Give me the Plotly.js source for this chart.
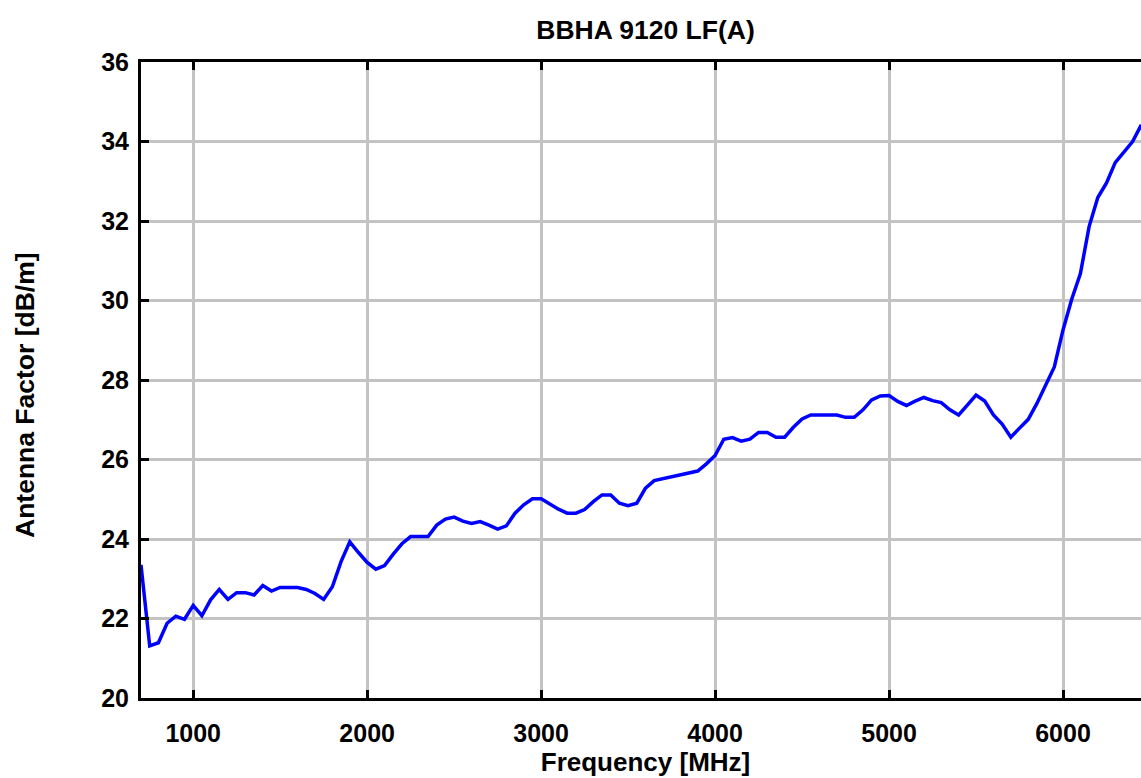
<!DOCTYPE html>
<html>
<head>
<meta charset="utf-8">
<script src="https://cdn.plot.ly/plotly-3.0.1.min.js"></script>
<style>
html, body { margin: 0; padding: 0; overflow: hidden; background: #fff; }
#chart { width: 1170px; height: 778px; }
</style>
</head>
<body>
<div id="chart"></div>
<script>
// Frequency in MHz
const frequency = [
  700, 750, 800, 850, 900, 950, 1000, 1050, 1100, 1150, 1200, 1250, 1300, 1350, 1400, 1450,
  1500, 1550, 1600, 1650, 1700, 1750, 1800, 1850, 1900, 1950, 2000, 2050, 2100, 2150, 2200,
  2250, 2300, 2350, 2400, 2450, 2500, 2550, 2600, 2650, 2700, 2750, 2800, 2850, 2900, 2950,
  3000, 3050, 3100, 3150, 3200, 3250, 3300, 3350, 3400, 3450, 3500, 3550, 3600, 3650,
  3900, 3950, 4000, 4050, 4100, 4150, 4200, 4250, 4300, 4350, 4400, 4450, 4500, 4550,
  4600, 4650, 4700, 4750, 4800, 4850, 4900, 4950, 5000, 5050, 5100, 5150, 5200, 5250,
  5300, 5350, 5400, 5450, 5500, 5550, 5600, 5650, 5700, 5750, 5800, 5850, 5900, 5950,
  6000, 6050, 6100, 6150, 6200, 6250, 6300, 6350, 6400, 6450
];
// Antenna factor in dB/m
const antennaFactor = [
  23.35, 21.31, 21.39, 21.88, 22.06, 21.98, 22.33, 22.07, 22.47, 22.73, 22.48, 22.65, 22.65, 22.59, 22.83, 22.69,
  22.78, 22.79, 22.78, 22.73, 22.63, 22.48, 22.80, 23.43, 23.93, 23.66, 23.41, 23.24, 23.33, 23.62, 23.88,
  24.06, 24.06, 24.06, 24.35, 24.50, 24.55, 24.45, 24.39, 24.44, 24.35, 24.25, 24.33, 24.65, 24.86, 25.01,
  25.01, 24.87, 24.75, 24.65, 24.65, 24.74, 24.94, 25.11, 25.11, 24.90, 24.84, 24.90, 25.28, 25.47,
  25.71, 25.89, 26.10, 26.51, 26.55, 26.46, 26.51, 26.68, 26.68, 26.56, 26.56, 26.81, 27.02, 27.12,
  27.12, 27.12, 27.12, 27.06, 27.06, 27.25, 27.50, 27.60, 27.61, 27.46, 27.36, 27.47, 27.56, 27.48,
  27.43, 27.25, 27.12, 27.37, 27.62, 27.47, 27.12, 26.89, 26.56, 26.79, 27.01, 27.41, 27.89, 28.33,
  29.26, 30.03, 30.68, 31.86, 32.59, 32.96, 33.47, 33.72, 34.00, 34.42
];
const xTicks = [1000, 2000, 3000, 4000, 5000, 6000];
const yTicks = [20, 22, 24, 26, 28, 30, 32, 34, 36];
const chartTitle = 'BBHA 9120 LF(A)';
const xTitle = 'Frequency [MHz]';
const yTitle = 'Antenna Factor [dB/m]';

const fontFam = '"Liberation Sans", Arial, sans-serif';

const trace = {
  x: frequency,
  y: antennaFactor,
  type: 'scatter',
  mode: 'lines',
  line: { color: '#0000ff', width: 3.5 },
  hoverinfo: 'skip'
};

const layout = {
  width: 1170,
  height: 778,
  margin: { l: 141, r: 20, t: 62, b: 80 },
  paper_bgcolor: '#ffffff',
  plot_bgcolor: '#ffffff',
  showlegend: false,
  font: { family: fontFam, color: '#000000' },
  title: {
    text: '<b>' + chartTitle + '</b>',
    font: { family: fontFam, size: 26.5, color: '#000' },
    x: 0.5, xref: 'paper', xanchor: 'center',
    y: 1 - 30 / 778, yref: 'container', yanchor: 'middle'
  },
  xaxis: {
    range: [700, 6500],
    tickvals: xTicks,
    ticktext: xTicks.map(v => '<b>' + v + '</b>'),
    tickfont: { family: fontFam, size: 25, color: '#000' },
    ticks: 'inside', ticklen: 8, tickwidth: 3, tickcolor: '#000',
    ticklabelstandoff: 11,
    showline: true, linecolor: '#000', linewidth: 3, mirror: 'ticks',
    showgrid: true, gridcolor: '#c3c3c3', gridwidth: 3,
    zeroline: false,
    automargin: false,
    title: { text: '<b>' + xTitle + '</b>', font: { family: fontFam, size: 26, color: '#000' }, standoff: 4 }
  },
  yaxis: {
    range: [20, 36],
    tickvals: yTicks,
    ticktext: yTicks.map(v => '<b>' + v + '</b>'),
    tickfont: { family: fontFam, size: 25, color: '#000' },
    ticks: 'inside', ticklen: 8, tickwidth: 3, tickcolor: '#000',
    ticklabelstandoff: 4,
    showline: true, linecolor: '#000', linewidth: 3, mirror: false,
    showgrid: true, gridcolor: '#c3c3c3', gridwidth: 3,
    zeroline: false,
    automargin: false
  },
  annotations: [{
    text: '<b>' + yTitle + '</b>',
    textangle: -90,
    font: { family: fontFam, size: 26.5, color: '#000' },
    xref: 'paper', yref: 'paper',
    x: (25 - 141) / 1009, y: (698 - 395) / 636,
    xanchor: 'center', yanchor: 'middle',
    showarrow: false
  }]
};

Plotly.newPlot('chart', [trace], layout, { displayModeBar: false, staticPlot: true });
</script>
</body>
</html>
